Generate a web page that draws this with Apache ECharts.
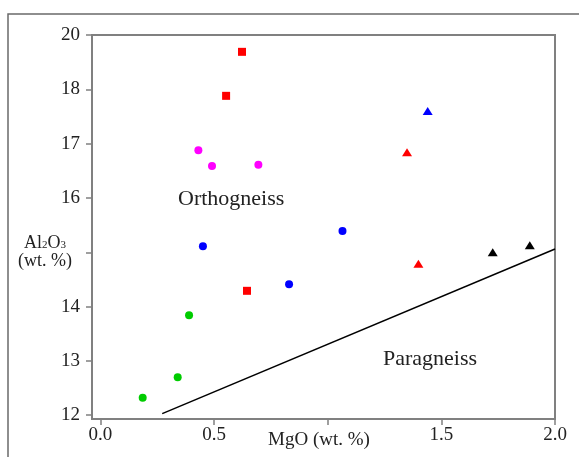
<!DOCTYPE html>
<html>
<head>
<meta charset="utf-8">
<script src="https://cdn.jsdelivr.net/npm/echarts@6/dist/echarts.min.js"></script>
<style>
  html, body { margin: 0; padding: 0; background: #fff; }
  #chart { width: 579px; height: 457px; }
</style>
</head>
<body>
<div id="chart"></div>
<script>
// y axis is drawn evenly spaced; source labels the top tick "20" (one step above 18)
const xTickValues = [0, 0.5, 1, 1.5, 2];
const xTickLabels = ['0.0', '0.5', '', '1.5', '2.0'];
const yTickValues = [12, 13, 14, 15, 16, 17, 18, 19];
const yTickLabels = ['12', '13', '14', '', '16', '17', '18', '20'];

const redSquares = [[0.623, 18.69], [0.553, 17.88], [0.645, 14.29]];
const magentaCircles = [[0.431, 16.88], [0.491, 16.59], [0.695, 16.61]];
const blueCircles = [[0.451, 15.11], [0.830, 14.41], [1.065, 15.39]];
const greenCircles = [[0.390, 13.84], [0.340, 12.70], [0.186, 12.32]];
const blueTriangles = [[1.440, 17.60]];
const redTriangles = [[1.349, 16.84], [1.399, 14.79]];
const blackTriangles = [[1.726, 15.00], [1.889, 15.13]];
const boundary = [[0.272, 12.03], [2.0, 15.06]];

const serif = '"Liberation Serif", "Times New Roman", serif';
const axisGray = '#808080';
const textColor = '#222';

const chart = echarts.init(document.getElementById('chart'));

function pts(data, color, symbol, size) {
  return {
    type: 'scatter',
    data: data,
    symbol: symbol,
    symbolSize: size,
    itemStyle: { color: color, opacity: 1 },
    z: 3
  };
}

const option = {
  animation: false,
  grid: {
    left: 92, top: 35, right: 24, bottom: 38,
    show: true, borderColor: axisGray, borderWidth: 2,
    backgroundColor: 'transparent'
  },
  xAxis: {
    type: 'value',
    min: -0.037, max: 2.0,
    axisLine: { show: true, onZero: false, lineStyle: { color: axisGray, width: 2 } },
    axisTick: { show: true, customValues: xTickValues, length: 6, lineStyle: { color: axisGray, width: 1.5 } },
    axisLabel: {
      customValues: xTickValues,
      margin: 7,
      fontFamily: serif, fontSize: 19, color: textColor,
      formatter: function (v) {
        const i = xTickValues.findIndex(t => Math.abs(t - v) < 1e-6);
        return i >= 0 ? xTickLabels[i] : '';
      }
    },
    splitLine: { show: false }
  },
  yAxis: {
    type: 'value',
    min: 11.93, max: 19,
    axisLine: { show: true, onZero: false, lineStyle: { color: axisGray, width: 2 } },
    axisTick: { show: true, customValues: yTickValues, length: 6, lineStyle: { color: axisGray, width: 1.5 } },
    axisLabel: {
      customValues: yTickValues,
      margin: 12,
      fontFamily: serif, fontSize: 19, color: textColor,
      formatter: function (v) {
        const i = yTickValues.findIndex(t => Math.abs(t - v) < 1e-6);
        return i >= 0 ? yTickLabels[i] : '';
      }
    },
    splitLine: { show: false }
  },
  series: [
    {
      type: 'line',
      data: boundary,
      symbol: 'none',
      lineStyle: { color: '#000', width: 1.5 },
      z: 2
    },
    pts(redSquares, '#ff0000', 'rect', 8),
    pts(magentaCircles, '#ff00ff', 'circle', 8),
    pts(blueCircles, '#0000ff', 'circle', 8),
    pts(greenCircles, '#00cc00', 'circle', 8),
    pts(blueTriangles, '#0000ff', 'triangle', [10, 8]),
    pts(redTriangles, '#ff0000', 'triangle', [10, 8]),
    pts(blackTriangles, '#000000', 'triangle', [10, 8])
  ],
  graphic: [
    {
      type: 'rect',
      shape: { x: 8, y: 14, width: 640, height: 520 },
      style: { fill: 'none', stroke: '#6a6a6a', lineWidth: 1.5 },
      silent: true
    },
    {
      type: 'text', x: 178, y: 199,
      style: { text: 'Orthogneiss', fontFamily: serif, fontSize: 22, fill: textColor, textVerticalAlign: 'middle' }
    },
    {
      type: 'text', x: 383, y: 359,
      style: { text: 'Paragneiss', fontFamily: serif, fontSize: 22, fill: textColor, textVerticalAlign: 'middle' }
    },
    {
      type: 'text', x: 319, y: 440,
      style: { text: 'MgO (wt. %)', fontFamily: serif, fontSize: 19, fill: textColor, textAlign: 'center', textVerticalAlign: 'middle' }
    },
    {
      type: 'text', x: 45, y: 243,
      style: {
        text: 'Al{s|2}O{s|3}',
        fontFamily: serif, fontSize: 18, fill: textColor,
        textAlign: 'center', textVerticalAlign: 'middle',
        rich: { s: { fontFamily: serif, fontSize: 11, fill: textColor, padding: [5, 0, 0, 0] } }
      }
    },
    {
      type: 'text', x: 45, y: 261,
      style: { text: '(wt. %)', fontFamily: serif, fontSize: 18, fill: textColor, textAlign: 'center', textVerticalAlign: 'middle' }
    }
  ]
};

chart.setOption(option);
</script>
</body>
</html>
